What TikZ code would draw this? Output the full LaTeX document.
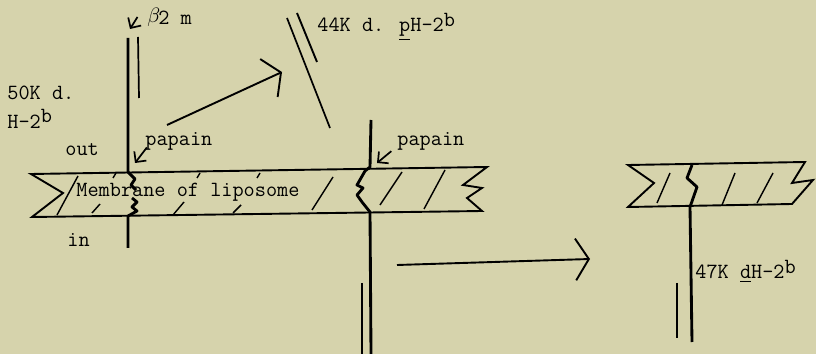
\documentclass[tikz,border=0pt]{standalone}
\usepackage{tikz}
\usetikzlibrary{arrows.meta, positioning}
\definecolor{paper}{RGB}{214,211,172}

\begin{document}
\begin{tikzpicture}[
    x=0.0185cm, y=-0.0185cm,
    lbl/.style={inner sep=0pt, anchor=base west, font=\ttfamily\fontsize{11.4}{13}\selectfont},
    chainline/.style={line width=1.5pt, line join=round},
    thinline/.style={line width=0.9pt},
    memb/.style={line width=1pt},
    hatch/.style={line width=0.75pt},
    ptr/.style={-{Straight Barb[length=4pt, width=8pt]}, line width=0.9pt},
    bigarrow/.style={-{Straight Barb[length=7pt, width=22pt]}, line width=1pt}
]
\fill[paper] (0,0) rectangle (816,354);
\useasboundingbox (0,0) rectangle (816,354);

% labels
\node[lbl] (beta) at (147,25) {\raisebox{.3ex}{$\beta$}\kern-1pt2 m};
\node[lbl] (k50) at (7,100) {50K d.};
\node[lbl, below=4.5pt of k50.south west, anchor=north west] (h2) {H-2\raisebox{.6ex}{b}};
\node[lbl] (k44) at (317,32) {44K d. \underline{p}H-2\raisebox{.6ex}{b}};
\node[lbl] (out) at (65,156) {out};
\node[lbl] (papL) at (145,146) {papain};
\node[lbl] (papR) at (397,146) {papain};
\node[lbl] (memtxt) at (76,197) {Membrane of liposome};
\node[lbl] (in) at (67,247) {in};
\node[lbl] (k47) at (695,279) {47K \underline{d}H-2\raisebox{.6ex}{b}};

% membrane, left
\draw[memb] (31,174) -- (487,167) -- (463,185) -- (482,188) -- (467,198)
    -- (482,211) -- (32,217) -- (63,193) -- cycle;
\draw[hatch] (57,215) -- (78,176);
\draw[hatch] (92,213) -- (100,204);
\draw[hatch] (113,178) -- (116,173);
\draw[hatch] (173,215) -- (184,202);
\draw[hatch] (197,178) -- (200,173);
\draw[hatch] (233,213) -- (241,205);
\draw[hatch] (257,178) -- (260,173);
\draw[hatch] (312,210) -- (333,177);
\draw[hatch] (380,205) -- (402,172);
\draw[hatch] (424,209) -- (445,170);

% 50K chain
\draw[chainline] (128,38) -- (128,172) -- (135,179) -- (131,185) -- (136,190);
\draw[chainline] (132,198) -- (137,202) -- (132,207) -- (137,211) -- (128,216) -- (128,248);
\draw[thinline] (138,37) -- (139,98);

% 44K chain, cut
\draw[chainline] (371,120) -- (370,167) -- (365,171) -- (357,185) -- (363,188)
    -- (357,195) -- (362,202) -- (370,212) -- (371,354);
\draw[thinline] (362,283) -- (362,354);
\draw[thinline] (287,18) -- (330,128);
\draw[memb] (297,13) -- (317,62);

% membrane, right
\draw[memb] (628,165) -- (805,162) -- (792,183) -- (813,180) -- (792,204)
    -- (628,207) -- (654,183) -- cycle;
\draw[hatch] (657,203) -- (670,173);
\draw[hatch] (722,205) -- (735,173);
\draw[hatch] (757,203) -- (773,173);
\draw[chainline] (692,165) -- (687,178) -- (697,187) -- (690,207) -- (692,342);
\draw[thinline] (677,283) -- (677,338);

% arrows
\coordinate (betaTip) at (130,29);
\coordinate (papLTip) at (135,163);
\coordinate (papRTip) at (377,163);
\coordinate (diagA) at (167,125);
\coordinate (diagB) at (282,72);
\coordinate (horA) at (397,265);
\coordinate (horB) at (590,259);
\draw[ptr] (beta.west) ++(-5pt,0) -- (betaTip);
\draw[ptr] (papL.south west) ++(1pt,2pt) -- (papLTip);
\draw[ptr] (papR.south west) ++(-3pt,0pt) -- (papRTip);
\draw[bigarrow] (diagA) -- (diagB);
\draw[bigarrow] (horA) -- (horB);
\end{tikzpicture}
\end{document}
